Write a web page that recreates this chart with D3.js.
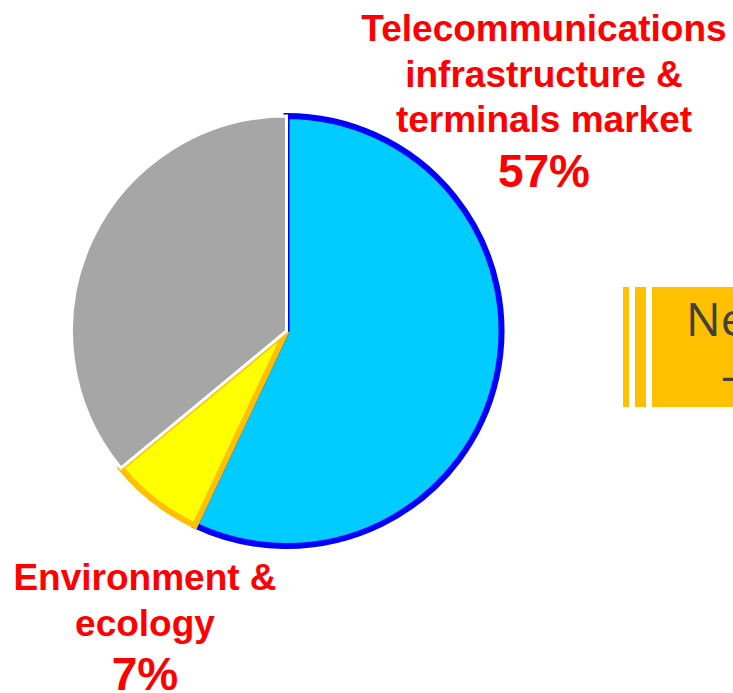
<!DOCTYPE html>
<html>
<head>
<meta charset="utf-8">
<script src="https://cdn.jsdelivr.net/npm/d3@7"></script>
<style>
  body { margin: 0; background: #fff; }
  svg { display: block; }
</style>
</head>
<body>
<div id="viz"></div>
<script>
// slice data, clockwise from 12 o'clock
var categories = ["Telecommunications infrastructure & terminals market", "Environment & ecology", "Other"]
var shares = [57, 7, 36]
var fills = ["#00CCFF", "#FFFF00", "#A6A6A6"]
var strokes = ["#0000FF", "#FFC000", "#FFFFFF"]
var strokeWidths = [6, 6, 3]

var topLabelLines = ["Telecommunications", "infrastructure &", "terminals market"]
var bottomLabelLines = ["Environment &", "ecology"]
var boxLines = ["New", "–"]

var width = 733, height = 693
var cx = 286.5, cy = 331, radius = 215

var svg = d3.select("#viz")
  .append("svg")
  .attr("width", width)
  .attr("height", height)

var pie = d3.pie().sort(null).value(function (d) { return d.value })
var arc = d3.arc().innerRadius(0).outerRadius(radius)

var slices = pie(shares.map(function (v, i) { return { value: v, i: i } }))

svg.append("g")
  .attr("transform", "translate(" + cx + "," + cy + ")")
  .selectAll("path")
  .data(slices)
  .enter().append("path")
  .attr("d", arc)
  .style("fill", function (d) { return fills[d.data.i] })
  .style("stroke", function (d) { return strokes[d.data.i] })
  .style("stroke-width", function (d) { return strokeWidths[d.data.i] })
  .style("stroke-linejoin", "miter")

// labels
var labelFont = "'Liberation Sans', Arial, sans-serif"

function drawLabel(x, y0, lines, pct) {
  var g = svg.append("g").attr("text-anchor", "middle")
    .style("font-family", labelFont).style("font-weight", "bold").style("fill", "#FF0000")
  lines.forEach(function (t, k) {
    g.append("text").attr("x", x).attr("y", y0 + k * 45.5)
      .style("font-size", "37px").text(t)
  })
  g.append("text").attr("x", x).attr("y", y0 + lines.length * 45.5 + 9)
    .style("font-size", "46px").text(pct + "%")
}

drawLabel(544, 41, topLabelLines, shares[0])
drawLabel(145, 590, bottomLabelLines, shares[1])

// orange box on the right (cut off by the frame)
var box = svg.append("g")
box.append("rect").attr("x", 623).attr("y", 287).attr("width", 6).attr("height", 120).style("fill", "#FFC000")
box.append("rect").attr("x", 635).attr("y", 287).attr("width", 11).attr("height", 120).style("fill", "#FFC000")
box.append("rect").attr("x", 652).attr("y", 287).attr("width", 120).attr("height", 120).style("fill", "#FFC000")
box.append("text").attr("x", 686).attr("y", 336)
  .style("font-family", "'Open Sans', 'Noto Sans', sans-serif").style("font-size", "46px")
  .style("fill", "#404040").text(boxLines[0])
box.append("text").attr("x", 721).attr("y", 392)
  .style("font-family", "'Open Sans', 'Noto Sans', sans-serif").style("font-size", "46px")
  .style("fill", "#404040").text(boxLines[1])
</script>
</body>
</html>
